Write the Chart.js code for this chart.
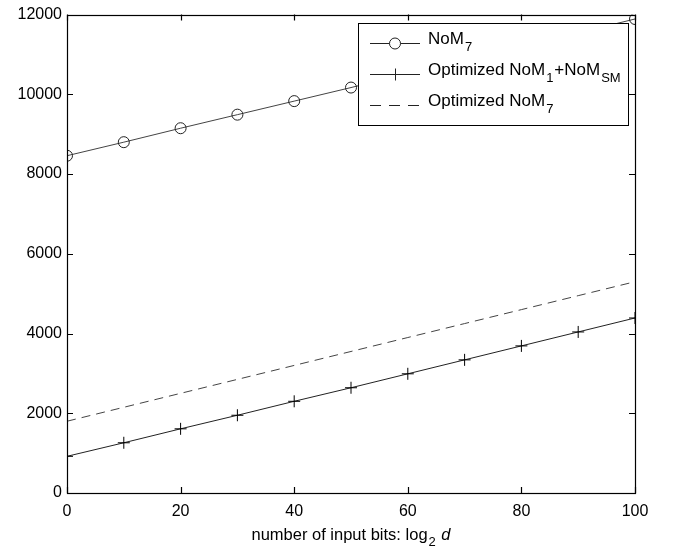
<!DOCTYPE html>
<html><head><meta charset="utf-8">
<script src="https://cdn.jsdelivr.net/npm/chart.js@4"></script>
<style>html,body{margin:0;padding:0;background:#fff;}#wrap{width:674px;height:550px;}</style>
</head><body><div id="wrap"><canvas id="c" width="674" height="550"></canvas></div>
<script>
const xValues = [0,10,20,30,40,50,60,70,80,90,100];
const nom7 = [8460,8800,9150,9490,9830,10170,10520,10860,11200,11540,11890];
const optNom1Sm = [920,1260,1610,1950,2300,2640,2990,3340,3690,4040,4390];
const optNom7 = [1800,2150,2500,2850,3200,3550,3900,4250,4600,4950,5300];
const xTicks = [0,20,40,60,80,100];
const yTicks = [0,2000,4000,6000,8000,10000,12000];
const legendLabels = [["NoM","7",""],["Optimized NoM","1","+NoM","SM"],["Optimized NoM","7",""]];
const FONT = 'Liberation Sans, Arial, sans-serif';

function pts(ys){return xValues.map((x,i)=>({x:x,y:ys[i]}));}

function drawSegs(ctx, segs, x, y, size, subSize, subOff){
  let cx = x;
  segs.forEach((s,i)=>{
    if(!s) return;
    if(i%2===0){ctx.font = size+'px '+FONT; ctx.fillText(s,cx,y);}
    else {ctx.font = subSize+'px '+FONT; ctx.fillText(s,cx+1,y+subOff);}
    cx += ctx.measureText(s).width + (i%2===1?2:0);
  });
  return cx;
}

const framePlugin = {
  id:'frame',
  beforeDraw(chart){
    const ctx=chart.ctx; ctx.save(); ctx.fillStyle='#fff'; ctx.fillRect(0,0,chart.width,chart.height); ctx.restore();
  },
  afterDraw(chart){
    const ctx=chart.ctx, a=chart.chartArea, xs=chart.scales.x, ys=chart.scales.y;
    ctx.save();
    ctx.strokeStyle='#000'; ctx.lineWidth=1.2;
    ctx.strokeRect(Math.round(a.left)+0.5, Math.round(a.top)+0.5, Math.round(a.right-a.left), Math.round(a.bottom-a.top));
    ctx.beginPath();
    xTicks.forEach(v=>{const px=Math.round(xs.getPixelForValue(v))+0.5;
      ctx.moveTo(px,a.bottom); ctx.lineTo(px,a.bottom-6);
      ctx.moveTo(px,a.top); ctx.lineTo(px,a.top+6);});
    yTicks.forEach(v=>{const py=Math.round(ys.getPixelForValue(v))+0.5;
      ctx.moveTo(a.left,py); ctx.lineTo(a.left+6,py);
      ctx.moveTo(a.right,py); ctx.lineTo(a.right-6,py);});
    ctx.stroke();
    // legend
    const lx=358, ly=23, lw=270, lh=102;
    ctx.fillStyle='#fff'; ctx.fillRect(lx,ly,lw,lh);
    ctx.lineWidth=1; ctx.strokeStyle='#000'; ctx.strokeRect(lx+0.5,ly+0.5,lw,lh);
    const rows=[43,74,105];
    ctx.textBaseline='middle'; ctx.fillStyle='#000';
    rows.forEach((ry,i)=>{
      ctx.beginPath(); ctx.strokeStyle='#222'; ctx.lineWidth=1;
      if(i===2) ctx.setLineDash([11,8]); else ctx.setLineDash([]);
      ctx.moveTo(370,ry+0.5); ctx.lineTo(420,ry+0.5); ctx.stroke(); ctx.setLineDash([]);
      if(i===0){ctx.beginPath(); ctx.arc(395,ry+0.5,5.5,0,Math.PI*2); ctx.fillStyle='#fff'; ctx.fill(); ctx.stroke();}
      if(i===1){ctx.beginPath(); ctx.moveTo(395.5,ry-5.5); ctx.lineTo(395.5,ry+6.5); ctx.stroke();}
      ctx.fillStyle='#000';
      drawSegs(ctx, legendLabels[i], 428, ry-4, 17, 13, 8);
    });
    // x axis title
    ctx.textBaseline='middle';
    const y0=535;
    ctx.font='16.5px '+FONT;
    const w1=ctx.measureText('number of input bits: log').width;
    ctx.font='13px '+FONT; const w2=ctx.measureText('2').width+2;
    ctx.font='16.5px '+FONT; const w3=ctx.measureText(' ').width;
    ctx.font='italic 16.5px '+FONT; const w4=ctx.measureText('d').width;
    let sx=(a.left+a.right)/2 - (w1+w2+w3+w4)/2;
    ctx.font='16.5px '+FONT; ctx.fillText('number of input bits: log',sx,y0); sx+=w1;
    ctx.font='13px '+FONT; ctx.fillText('2',sx+1,y0+7); sx+=w2+w3;
    ctx.font='italic 16.5px '+FONT; ctx.fillText('d',sx,y0);
    ctx.restore();
  }
};

new Chart(document.getElementById('c'),{
  type:'line',
  data:{datasets:[
    {label:'NoM7',data:pts(nom7),borderColor:'#444',borderWidth:1,pointStyle:'circle',pointRadius:5.5,pointBorderColor:'#222',pointBackgroundColor:'rgba(0,0,0,0)',pointBorderWidth:1,tension:0},
    {label:'Optimized NoM1+NoMSM',data:pts(optNom1Sm),borderColor:'#222',borderWidth:1,pointStyle:'cross',pointRadius:6,pointBorderColor:'#000',pointBorderWidth:1,tension:0},
    {label:'Optimized NoM7',data:pts(optNom7),borderColor:'#444',borderWidth:1,borderDash:[9,6],pointRadius:0,tension:0}
  ]},
  options:{
    responsive:false,animation:false,
    layout:{padding:{left:0,right:39,top:14,bottom:0}},
    plugins:{legend:{display:false},tooltip:{enabled:false}},
    scales:{
      x:{type:'linear',min:0,max:100,afterBuildTicks(s){s.ticks=xTicks.map(v=>({value:v}));},
        grid:{display:false,drawTicks:false},border:{display:false},
        ticks:{color:'#000',font:{family:FONT,size:16},padding:9,maxRotation:0,callback:v=>String(v)},
        afterFit(s){s.height=57;}},
      y:{min:0,max:12000,afterBuildTicks(s){s.ticks=yTicks.map(v=>({value:v}));},
        grid:{display:false,drawTicks:false},border:{display:false},
        ticks:{color:'#000',font:{family:FONT,size:16},padding:5,callback:v=>String(v)},
        afterFit(s){s.width=67;}}
    }
  },
  plugins:[framePlugin]
});
</script></body></html>
